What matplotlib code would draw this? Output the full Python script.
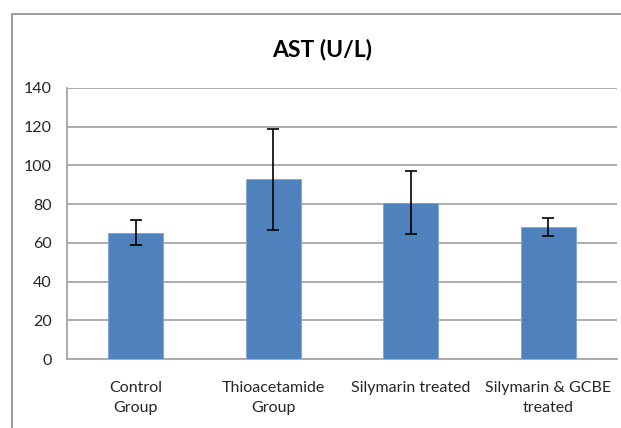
import matplotlib.pyplot as plt
from matplotlib.patches import Rectangle

groups = ["Control\nGroup", "Thioacetamide\nGroup", "Silymarin treated", "Silymarin & GCBE\ntreated"]
ast_mean = [65.3, 92.9, 80.8, 68.4]
ast_err = [6.3, 26.0, 16.2, 4.7]
y_ticks = [0, 20, 40, 60, 80, 100, 120, 140]

plt.rcParams["font.family"] = ["Lato", "DejaVu Sans"]

fig = plt.figure(figsize=(6.21, 4.28), dpi=100)
ax = fig.add_axes([0.1079, 0.1612, 0.8857, 0.6332])

# chart frame, as in the spreadsheet export
fig.patches.append(Rectangle((12 / 621, -0.05), 1.2, 1 - 14 / 428 + 0.05,
                             transform=fig.transFigure, fill=False,
                             edgecolor="#8c8c8c", linewidth=1.2))

x = range(len(groups))
ax.bar(x, ast_mean, width=0.4, color="#4f81bd", edgecolor="#7ea2d0", linewidth=0.6, zorder=3)
ax.errorbar(x, ast_mean, yerr=ast_err, fmt="none", ecolor="black",
            elinewidth=1.2, capsize=4, capthick=1.2, zorder=4)

ax.set_xlim(-0.5, 3.5)
ax.set_ylim(0, 140)
ax.set_yticks(y_ticks)
ax.set_xticks(list(x))
ax.set_xticklabels(groups, fontsize=11.5, color="#262626", linespacing=1.55)
ax.tick_params(axis="y", labelsize=11.5, colors="#262626", length=0, pad=11)
ax.tick_params(axis="x", length=0, pad=16)

ax.yaxis.grid(True, color="#a6a6a6", linewidth=1.3, zorder=0)
ax.set_axisbelow(True)
for side in ["top", "right"]:
    ax.spines[side].set_visible(False)
ax.spines["left"].set_color("#a6a6a6")
ax.spines["left"].set_linewidth(1.3)
ax.spines["bottom"].set_color("#a6a6a6")
ax.spines["bottom"].set_linewidth(1.3)

fig.text(322 / 621, 1 - 50 / 428, "AST (U/L)", ha="center", va="center",
         fontsize=16.5, fontweight="bold", color="black")

fig.savefig("out.png", dpi=100)
